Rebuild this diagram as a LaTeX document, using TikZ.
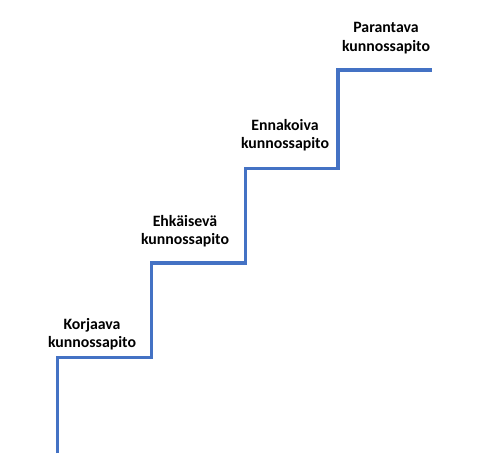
\documentclass[tikz,border=0pt]{standalone}
\usepackage{fontspec}
\setmainfont{Carlito}
\definecolor{stairblue}{HTML}{4472C4}
\begin{document}
\begin{tikzpicture}[x=1pt,y=-1pt,
  stair/.style={draw=stairblue,line width=3.6pt,line cap=butt,line join=miter},
  shade/.style={draw=black,line width=3.6pt,line join=miter},
  lbl/.style={align=center,inner sep=0pt,font=\fontsize{15.8}{18.5}\selectfont\bfseries}]
\useasboundingbox[fill=white] (0,0) rectangle (484,475);
\coordinate (s0) at (57.5,453);
\coordinate (c1) at (57.5,357.5);
\coordinate (c2) at (151.5,357.5);
\coordinate (c3) at (151.5,263);
\coordinate (c4) at (245.5,263);
\coordinate (c5) at (245.5,168.5);
\coordinate (c6) at (338,168.5);
\coordinate (c7) at (338,69.7);
\coordinate (e) at (432,69.7);
% soft shadow
\foreach \d/\o in {6/0.05,5/0.07,4/0.09,3/0.11,2/0.13}{
  \draw[shade,opacity=\o,shift={(\d,\d)}] (s0) -- (c1) -- (c2) -- (c3) -- (c4) -- (c5) -- (c6) -- (c7) -- (e);
}
\draw[stair] (s0) -- (c1) -- (c2) -- (c3) -- (c4) -- (c5) -- (c6) -- (c7) -- (e);
\node[lbl] (l1) at (92,334) {Korjaava\\kunnossapito};
\node[lbl] (l2) at (185,231) {Ehkäisevä\\kunnossapito};
\node[lbl] (l3) at (285,135) {Ennakoiva\\kunnossapito};
\node[lbl] (l4) at (386,38) {Parantava\\kunnossapito};
\end{tikzpicture}
\end{document}
